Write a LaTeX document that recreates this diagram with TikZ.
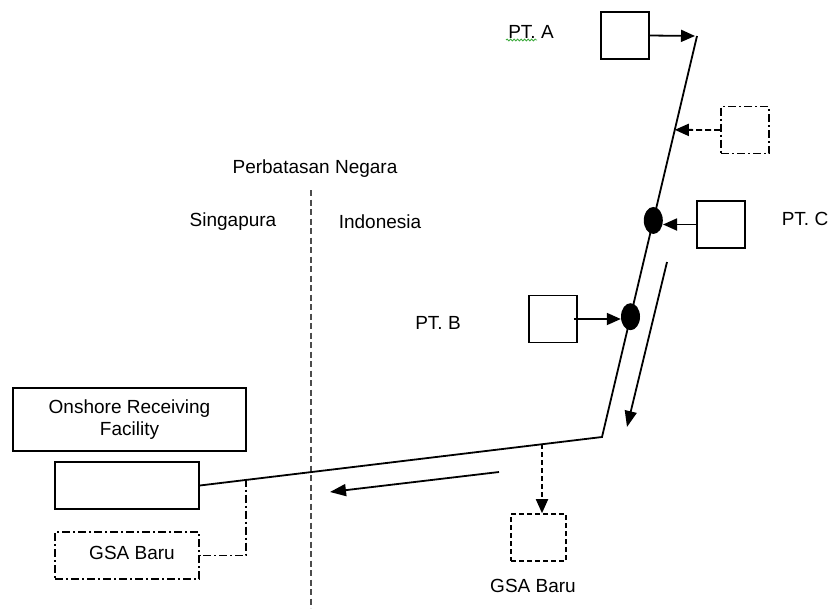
\documentclass[tikz,border=0pt]{standalone}
\usepackage{fontspec}
\setmainfont{Liberation Sans}
\usetikzlibrary{arrows.meta,calc,decorations.pathmorphing,shapes.geometric}
\definecolor{spellgreen}{RGB}{60,170,60}
\begin{document}
\begin{tikzpicture}[x=1pt,y=-1pt,
  lbl/.style={font=\fontsize{19}{22}\selectfont, inner sep=0pt},
  plant/.style={draw, line width=1.6pt, inner sep=0pt, minimum width=48, minimum height=47},
  dashplant/.style={plant, dash pattern=on 8pt off 3pt on 2pt off 3pt},
  pipe/.style={line width=1.8pt},
  feed/.style={line width=1.8pt, -{Triangle[length=14pt,width=12pt]}},
  flow/.style={line width=1.8pt, -{Triangle[length=16pt,width=12pt]}},
  junction/.style={fill=black, ellipse, minimum width=19, minimum height=27, inner sep=0pt},
  border/.style={line width=1.8pt, dash pattern=on 6pt off 3.5pt, gray!60!black}]
\useasboundingbox (0,0) rectangle (832,608);

% pipeline route
\coordinate (p0) at (697,36);
\coordinate (p1) at (602,437);

% receiving facility on the Singapore side
\node[draw, line width=1.6pt, minimum width=233, minimum height=63, inner sep=0pt,
      lbl, align=center] (orflabel) at (129.5,419.5) {Onshore Receiving\\Facility};
\node[plant, minimum width=144] (orf) at (127,485.5) {};
\node[dashplant, minimum width=144] (gsa1) at (127,555.5) {};
\node[lbl] at (132,553) {GSA Baru};

% supply plants
\node[plant] (plantA) at (625,35.5) {};
\node[dashplant] (plantD) at (745,130) {};
\node[plant] (plantC) at (721,224.5) {};
\node[plant] (plantB) at (553,319) {};
\node[plant, dash pattern=on 5pt off 3pt, minimum width=55] (gsa2) at (538.5,537.5) {};

% labels
\node[lbl] (ptA) at (531,32) {PT. A};
\draw[spellgreen, line width=0.8pt, decorate, decoration={snake, segment length=3.5pt, amplitude=1pt}]
  (506,40) -- (537,40);
\node[lbl] (ptC) at (805,219) {PT. C};
\node[lbl] (ptB) at (438,323) {PT. B};
\node[lbl] (gsa2lbl) at (533,586) {GSA Baru};
\node[lbl] (border-lbl) at (315,169) {Perbatasan Negara};
\node[lbl] (sg) at (233,222) {Singapura};
\node[lbl] (id) at (380,222) {Indonesia};

% national border
\coordinate (b0) at (311,190);
\coordinate (b1) at (311,608);
\draw[border] (b0) -- (b1);

% main pipeline
\draw[pipe] (p0) -- (p1) -- (orf.east);

% junctions on the pipeline
\node[junction] (jC) at ($(p0)!0.46!(p1)$) {};
\node[junction] (jB) at ($(p0)!0.70!(p1)$) {};
\coordinate (jD) at ($(p0)!0.234!(p1)$);

% feeds into the pipeline
\draw[feed] (plantA.east) -- ($(p0)+(-2,0)$);
\draw[feed, dash pattern=on 6pt off 3pt] (plantD.west) -- (jD);
\draw[feed] (plantC.west) -- (plantC.west -| jC.east);
\draw[feed] ($(plantB.east)+(-4,0)$) -- (plantB.east -| jB.west);

% flow direction
\coordinate (f1s) at (667,262);
\coordinate (f1e) at (627,427);
\draw[flow] (f1s) -- (f1e);
\coordinate (f2s) at (499,472);
\coordinate (f2e) at (330,492);
\draw[flow] (f2s) -- (f2e);

% new gas sales offtakes
\coordinate (tap2) at (542,444);
\draw[feed, dash pattern=on 5pt off 3pt] (tap2) -- (tap2 |- gsa2.north);
\coordinate (tap1) at (246,478.6);
\draw[line width=1.5pt, dash pattern=on 8pt off 3pt on 2pt off 3pt] (tap1) |- (gsa1.east);
\end{tikzpicture}
\end{document}
